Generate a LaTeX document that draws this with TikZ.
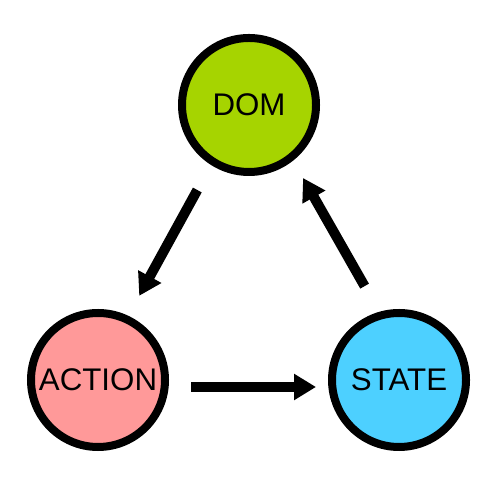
\documentclass[tikz,border=0pt]{standalone}
\usepackage{fontspec}
\setmainfont{Liberation Sans}
\usetikzlibrary{arrows.meta}

\definecolor{domgreen}{RGB}{166,212,0}
\definecolor{actionpink}{RGB}{255,153,153}
\definecolor{stateblue}{RGB}{77,208,255}

\begin{document}
\begin{tikzpicture}[
    bigcircle/.style={circle, draw=black, line width=0.16cm, minimum size=2.68cm, inner sep=0pt, font=\fontsize{17.8}{21}\selectfont},
    flow/.style={line width=0.2cm, -{Triangle[length=0.44cm,width=0.5cm]}}
]
    % 画布大小
    \useasboundingbox (0,0) rectangle (10,10);

    % 三个圆形结点
    \node[bigcircle, fill=domgreen] (dom) at (4.98, 7.9) {DOM};
    \node[bigcircle, fill=actionpink] (action) at (1.96, 2.4) {ACTION};
    \node[bigcircle, fill=stateblue] (state) at (7.98, 2.4) {STATE};

    % DOM -> ACTION
    \draw[flow, shorten <=1.94cm, shorten >=1.92cm] ([xshift=-0.1cm]dom.center) -- ([xshift=-0.1cm]action.center);

    % ACTION -> STATE
    \draw[flow, shorten <=1.86cm, shorten >=1.66cm] ([yshift=-0.14cm]action.center) -- ([yshift=-0.14cm]state.center);

    % STATE -> DOM
    \draw[flow, shorten <=2.16cm, shorten >=1.68cm] ([xshift=0.38cm]state.center) -- ([xshift=0.25cm]dom.center);
\end{tikzpicture}
\end{document}
